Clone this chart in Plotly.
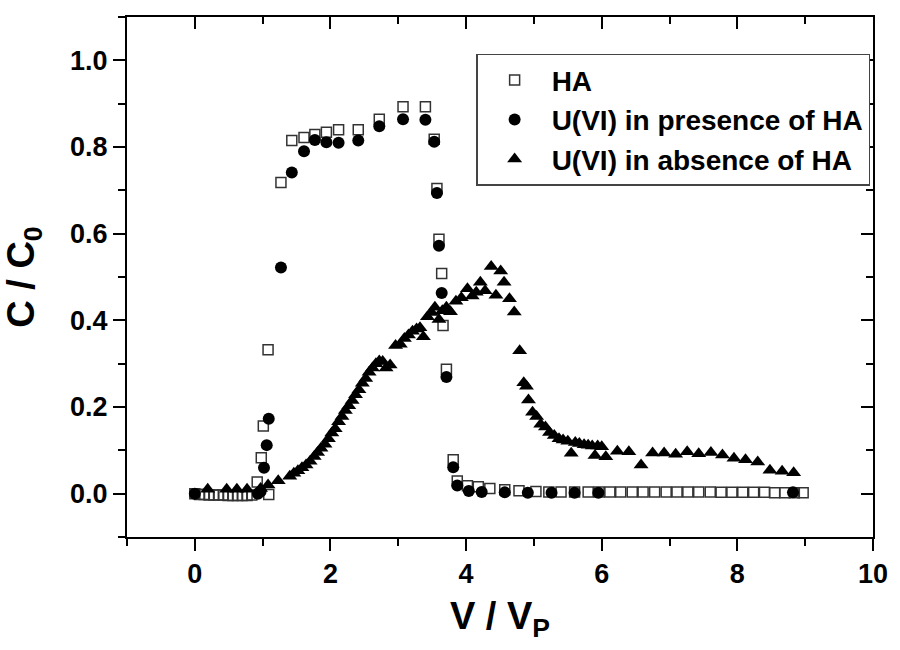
import plotly.graph_objects as go

# Breakthrough data: relative concentration C/C0 versus pore volumes V/Vp
ha_x = [0.00, 0.07, 0.14, 0.21, 0.28, 0.35, 0.42, 0.49, 0.56, 0.63, 0.70, 0.77, 0.84,
        0.92, 0.98, 1.01, 1.09, 1.08, 1.27, 1.43, 1.61, 1.77, 1.94, 2.12, 2.41, 2.72,
        3.07, 3.40, 3.53, 3.57, 3.60, 3.64, 3.66, 3.71, 3.81, 3.87, 4.02, 4.18, 4.35,
        4.57, 4.78, 5.03, 5.22, 5.40, 5.60, 5.80, 5.96, 6.12, 6.28, 6.45, 6.61, 6.78,
        6.95, 7.11, 7.27, 7.43, 7.60, 7.76, 7.92, 8.08, 8.24, 8.40, 8.55, 8.70, 8.84, 8.97]
ha_y = [0.000, -0.002, -0.002, -0.003, -0.003, -0.003, -0.003, -0.004, -0.004, -0.004,
        -0.004, -0.004, -0.003, 0.027, 0.083, 0.156, -0.002, 0.332, 0.718, 0.815, 0.822,
        0.829, 0.834, 0.840, 0.840, 0.864, 0.893, 0.893, 0.818, 0.704, 0.587, 0.508,
        0.388, 0.287, 0.078, 0.029, 0.018, 0.016, 0.012, 0.009, 0.007, 0.005, 0.004,
        0.004, 0.004, 0.004, 0.004, 0.004, 0.004, 0.004, 0.004, 0.004, 0.004, 0.004,
        0.004, 0.004, 0.004, 0.003, 0.003, 0.003, 0.003, 0.003, 0.002, 0.002, 0.002, 0.002]

u_ha_x = [0.00, 0.93, 0.97, 1.02, 1.06, 1.09, 1.27, 1.43, 1.61, 1.77, 1.94, 2.12, 2.41,
          2.72, 3.07, 3.40, 3.53, 3.57, 3.60, 3.64, 3.71, 3.81, 3.87, 4.04, 4.23, 4.57,
          4.91, 5.26, 5.60, 5.95, 8.82]
u_ha_y = [0.000, 0.000, 0.005, 0.060, 0.112, 0.173, 0.522, 0.741, 0.790, 0.816, 0.811,
          0.810, 0.815, 0.848, 0.864, 0.863, 0.812, 0.694, 0.572, 0.463, 0.269, 0.061,
          0.019, 0.006, 0.004, 0.003, 0.002, 0.002, 0.002, 0.002, 0.003]

u_x = [0.19, 0.47, 0.62, 0.77, 0.97, 1.08, 1.23, 1.40, 1.46, 1.52, 1.58, 1.64, 1.70,
       1.76, 1.81, 1.86, 1.92, 1.97, 2.02, 2.07, 2.12, 2.17, 2.22, 2.27, 2.32, 2.37,
       2.42, 2.47, 2.52, 2.57, 2.62, 2.67, 2.72, 2.77, 2.82, 2.88, 2.96, 3.03, 3.09,
       3.15, 3.21, 3.27, 3.32, 3.37, 3.43, 3.49, 3.54, 3.60, 3.65, 3.71, 3.77, 3.85,
       3.93, 4.02, 4.09, 4.15, 4.21, 4.28, 4.37, 4.44, 4.51, 4.56, 4.64, 4.71, 4.79,
       4.85, 4.89, 4.92, 4.98, 5.04, 5.10, 5.17, 5.23, 5.30, 5.37, 5.43, 5.50, 5.55,
       5.61, 5.67, 5.74, 5.80, 5.86, 5.90, 5.94, 6.00, 6.06, 6.23, 6.40, 6.58, 6.75,
       6.92, 7.09, 7.26, 7.43, 7.61, 7.78, 7.95, 8.12, 8.30, 8.48, 8.66, 8.83]
u_y = [0.010, 0.010, 0.010, 0.010, 0.012, 0.020, 0.030, 0.040, 0.047, 0.053, 0.060,
       0.066, 0.075, 0.086, 0.095, 0.105, 0.114, 0.127, 0.140, 0.150, 0.166, 0.178,
       0.192, 0.203, 0.215, 0.228, 0.240, 0.255, 0.266, 0.280, 0.290, 0.300, 0.306,
       0.305, 0.290, 0.297, 0.342, 0.345, 0.358, 0.366, 0.375, 0.380, 0.383, 0.362,
       0.408, 0.418, 0.430, 0.402, 0.422, 0.430, 0.420, 0.444, 0.452, 0.473, 0.456,
       0.465, 0.488, 0.468, 0.524, 0.458, 0.514, 0.488, 0.450, 0.419, 0.330, 0.256,
       0.248, 0.216, 0.188, 0.178, 0.160, 0.154, 0.141, 0.134, 0.127, 0.124, 0.121,
       0.093, 0.118, 0.116, 0.113, 0.112, 0.110, 0.088, 0.110, 0.108, 0.085, 0.098,
       0.097, 0.066, 0.094, 0.094, 0.091, 0.097, 0.092, 0.095, 0.089, 0.082, 0.078,
       0.073, 0.054, 0.052, 0.048]

series_names = ["HA", "U(VI) in presence of HA", "U(VI) in absence of HA"]

x_range = [-1, 10]
y_range = [-0.1, 1.1]

FONT = "Liberation Sans, Arial, sans-serif"

fig = go.Figure()
# HA on the bottom/left axes
fig.add_trace(go.Scatter(
    x=ha_x, y=ha_y, mode="markers", name=series_names[0],
    marker=dict(symbol="square-open", size=10, color="#333333", line=dict(width=1.5)),
))
# U(VI) with HA on the top x axis (identical range to the bottom one)
fig.add_trace(go.Scatter(
    x=u_ha_x, y=u_ha_y, mode="markers", name=series_names[1],
    xaxis="x2", yaxis="y",
    marker=dict(symbol="circle", size=12, color="black"),
))
# U(VI) without HA on the right y axis (identical range to the left one)
fig.add_trace(go.Scatter(
    x=u_x, y=u_y, mode="markers", name=series_names[2],
    xaxis="x", yaxis="y2",
    marker=dict(symbol="triangle-up", size=13, color="black"),
))

axis_common = dict(
    showgrid=False, zeroline=False, showline=True, linecolor="black", linewidth=2,
    tickcolor="black", tickwidth=2, ticklen=12,
)

fig.update_layout(
    width=900, height=650,
    margin=dict(l=127, r=27, t=17, b=113),
    paper_bgcolor="white", plot_bgcolor="white",
    font=dict(family=FONT, color="black"),
    xaxis=dict(
        **axis_common, range=x_range, tick0=0, dtick=2, ticks="outside", mirror=True,
        minor=dict(ticks="outside", dtick=1, ticklen=7, tickwidth=2, tickcolor="black"),
        tickfont=dict(size=27, family=FONT, weight="bold"),
        title=dict(text="V / V<sub>P</sub>", font=dict(size=38, family=FONT, weight="bold"),
                   standoff=14),
    ),
    yaxis=dict(
        **axis_common, range=y_range, tick0=0, dtick=0.2, ticks="outside", tickformat=".1f",
        mirror=True,
        minor=dict(ticks="outside", dtick=0.1, ticklen=7, tickwidth=2, tickcolor="black"),
        tickfont=dict(size=27, family=FONT, weight="bold"),
        title=dict(text="C / C<sub>0</sub>", font=dict(size=38, family=FONT, weight="bold"),
                   standoff=26),
    ),
    xaxis2=dict(
        **axis_common, range=x_range, tick0=0, dtick=2, ticks="inside", overlaying="x",
        side="top", showticklabels=False,
        minor=dict(ticks="inside", dtick=1, ticklen=7, tickwidth=2, tickcolor="black"),
    ),
    yaxis2=dict(
        **axis_common, range=y_range, tick0=0, dtick=0.2, ticks="inside", overlaying="y",
        side="right", showticklabels=False,
        minor=dict(ticks="inside", dtick=0.1, ticklen=7, tickwidth=2, tickcolor="black"),
    ),
    legend=dict(
        x=0.468, y=0.929, xanchor="left", yanchor="top",
        bgcolor="white", bordercolor="#444444", borderwidth=1.5,
        font=dict(size=28, family=FONT, weight="bold"),
        itemwidth=64,
    ),
    showlegend=True,
)

fig.write_html("out.html")
